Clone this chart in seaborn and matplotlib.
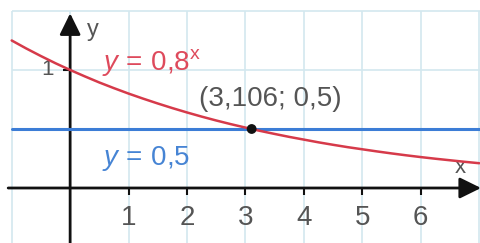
import matplotlib
matplotlib.use("Agg")
import matplotlib.pyplot as plt
import numpy as np
import pandas as pd
import seaborn as sns

# values
curve_x = [-1.0, -0.75, -0.5, -0.25, 0.0, 0.25, 0.5, 0.75, 1.0, 1.25, 1.5, 1.75,
           2.0, 2.25, 2.5, 2.75, 3.0, 3.25, 3.5, 3.75, 4.0, 4.25, 4.5, 4.75,
           5.0, 5.25, 5.5, 5.75, 6.0, 6.25, 6.5, 6.75, 7.0]
curve_y = [1.250, 1.182, 1.118, 1.057, 1.000, 0.946, 0.894, 0.846, 0.800, 0.757, 0.716, 0.677,
           0.640, 0.605, 0.572, 0.541, 0.512, 0.484, 0.458, 0.433, 0.410, 0.387, 0.366, 0.346,
           0.328, 0.310, 0.293, 0.277, 0.262, 0.248, 0.235, 0.222, 0.210]
level_x = [-1.0, 7.1]
level_y = [0.5, 0.5]
point_x = [3.106]
point_y = [0.5]
x_ticks = [1, 2, 3, 4, 5, 6]
x_tick_labels = ["1", "2", "3", "4", "5", "6"]
y_ticks = [1]
y_tick_labels = ["1"]
point_label = "(3,106; 0,5)"

RED = "#d63a4a"
RED_TEXT = "#de4a5c"
BLUE = "#3c7dd6"
BLUE_TEXT = "#4684d4"
GRID = "#d3e8ef"
TEXT = "#555555"

sns.set_style("white")
plt.rcParams["font.family"] = ["Liberation Sans", "DejaVu Sans"]
plt.rcParams["mathtext.fontset"] = "custom"
plt.rcParams["mathtext.rm"] = "Liberation Sans"
plt.rcParams["mathtext.it"] = "Liberation Sans:italic"

fig = plt.figure(figsize=(4.81, 2.43), dpi=100)
ax = fig.add_axes([0, 0, 1, 1])

# grid
ax.vlines(np.arange(-1, 8), -0.6, 1.5, color=GRID, lw=1.2, zorder=0)
ax.hlines([0.5, 1.0, 1.5], -1, 7.5, color=GRID, lw=1.2, zorder=0)

# axes with arrows
arrow = dict(arrowstyle="-|>,head_length=0.65,head_width=0.32",
             lw=2, color="#111111", mutation_scale=20, shrinkA=0, shrinkB=0)
ax.annotate("", xy=(7.03, 0), xytext=(-1.06, 0), arrowprops=arrow)
ax.annotate("", xy=(0, 1.48), xytext=(0, -0.5), arrowprops=arrow)
ax.vlines(x_ticks, -0.06, 0, color="#111111", lw=1.5)
ax.hlines(y_ticks, -0.13, 0, color="#111111", lw=1.5)

curve = pd.DataFrame({"x": curve_x, "y": curve_y})
level = pd.DataFrame({"x": level_x, "y": level_y})
sns.lineplot(data=level, x="x", y="y", color=BLUE, lw=2.2, ax=ax, zorder=3)
sns.lineplot(data=curve, x="x", y="y", color=RED, lw=1.8, ax=ax, zorder=4)
sns.scatterplot(x=point_x, y=point_y, color="#111111", s=50, edgecolor="none", ax=ax, zorder=5)
ax.set_xlim(-1.2, 7.03)
ax.set_ylim(-0.466, 1.593)
ax.axis("off")

for xt, lab in zip(x_ticks, x_tick_labels):
    ax.text(xt, -0.254, lab, color=TEXT, fontsize=20, ha="center", va="center")
for yt, lab in zip(y_ticks, y_tick_labels):
    ax.text(-0.38, yt, lab, color=TEXT, fontsize=16, ha="center", va="center")

ax.text(0.39, 1.34, "y", color=TEXT, fontsize=17, ha="center", va="center")
ax.text(6.67, 0.17, "x", color=TEXT, fontsize=16, ha="center", va="center")

ax.text(0.547, 1.06, r"$\mathit{y}\,=\,0{,}8^{\mathrm{x}}$", color=RED_TEXT, fontsize=20,
        ha="left", va="center")
ax.text(0.547, 0.254, r"$\mathit{y}\,=\,0{,}5$", color=BLUE_TEXT, fontsize=20,
        ha="left", va="center")
ax.text(2.21, 0.754, point_label, color=TEXT, fontsize=20, ha="left", va="center")

fig.savefig("out.png", dpi=100)
